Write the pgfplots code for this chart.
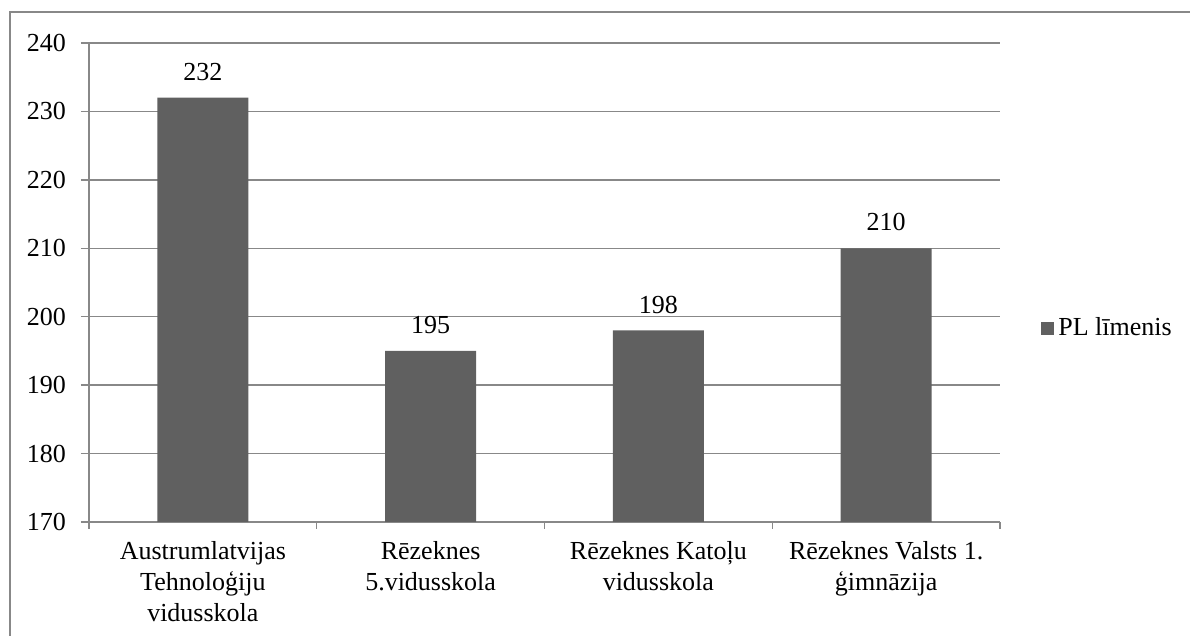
\documentclass[border=0pt]{standalone}
\usepackage{fontspec}
\setmainfont{Liberation Serif}
\usepackage{pgfplots}
\pgfplotsset{compat=1.18}
\usetikzlibrary{calc}
\definecolor{barc}{HTML}{606060}
\definecolor{linec}{HTML}{888888}

\begin{document}
\begin{tikzpicture}
  \begin{axis}[
    name=ax,
    scale only axis,
    width=455.5pt, height=239.5pt,
    ybar, bar width=45.5pt,
    xmin=-0.5, xmax=3.5,
    ymin=170, ymax=240,
    ytick={170,180,...,240},
    xtick={0,1,2,3},
    xticklabels={Austrumlatvijas\\Tehnoloģiju\\vidusskola,
                 Rēzeknes\\5.vidusskola,
                 Rēzeknes Katoļu\\vidusskola,
                 Rēzeknes Valsts 1.\\ģimnāzija},
    x tick label style={align=center, font=\fontsize{13}{15.5}\selectfont, yshift=-2pt},
    y tick label style={font=\fontsize{13}{15.5}\selectfont, xshift=-4pt},
    minor xtick={-0.5,0.5,1.5,2.5,3.5},
    every major x tick/.style={draw=none},
    tick align=outside,
    major tick length=4pt,
    minor tick length=3.5pt,
    axis lines*=left,
    axis line style={linec, line width=0.75pt},
    tick style={linec, line width=0.75pt},
    ymajorgrids,
    grid style={linec, line width=0.75pt},
    /pgf/number format/assume math mode=true,
    nodes near coords,
    every node near coord/.append style={font=\fontsize{13}{15.5}\selectfont, black, yshift=5pt},
    legend style={draw=none, at={(rel axis cs:1.045,0.405)}, anchor=west,
      font=\fontsize{13}{15.5}\selectfont, inner sep=0pt},
    legend image code/.code={\fill[barc] (0pt,-3.25pt) rectangle (6.5pt,3.25pt);},
  ]
    \addplot[fill=barc, draw=none] coordinates {(0,232) (1,195) (2,198) (3,210)};
    \legend{PL līmenis}
  \end{axis}
  \draw[linec, line width=0.75pt]
    ($(ax.south west)+(-39.5pt,-60pt)$) -- ($(ax.south west)+(-39.5pt,255pt)$)
    -- ($(ax.south west)+(552pt,255pt)$);
  \pgfresetboundingbox
  \path[use as bounding box] ($(ax.south west)+(-44.5pt,-57pt)$)
    rectangle ($(ax.south west)+(550.5pt,261pt)$);
\end{tikzpicture}
\end{document}
